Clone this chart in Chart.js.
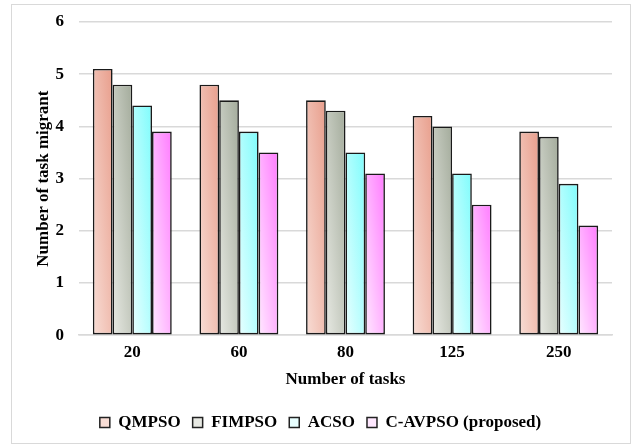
<!DOCTYPE html>
<html>
<head>
<meta charset="utf-8">
<script src="https://cdn.jsdelivr.net/npm/chart.js@4.4.1/dist/chart.umd.min.js"></script>
<style>
  html, body { margin: 0; padding: 0; background: #fff; }
  #frame {
    position: absolute; left: 11px; top: 4px; width: 618px; height: 438px;
    border: 1px solid #d9d9d9;
  }
  #wrap { position: absolute; left: 0; top: 0; width: 638px; height: 446px; }
</style>
</head>
<body>
<div id="frame"></div>
<div id="wrap"><canvas id="chart"></canvas></div>
<script>
const categories = ["20", "60", "80", "125", "250"];
const seriesNames = ["QMPSO", "FIMPSO", "ACSO", "C-AVPSO (proposed)"];
const qmpso = [5.1, 4.8, 4.5, 4.2, 3.9];
const fimpso = [4.8, 4.5, 4.3, 4.0, 3.8];
const acso = [4.4, 3.9, 3.5, 3.1, 2.9];
const cavpso = [3.9, 3.5, 3.1, 2.5, 2.1];
const yTicks = [0, 1, 2, 3, 4, 5, 6];

// light (bottom-left) -> strong (top-right)
const gradStops = [
  ["#f8ddd5", "#e89e8c"],
  ["#e7e9e3", "#a3ab9b"],
  ["#e8ffff", "#7ffcfc"],
  ["#ffe8ff", "#ff7cff"],
];

const font = { family: "'Liberation Serif', 'Times New Roman', serif", weight: "bold" };

// diagonal gradient per bar, scaled with the bar shape (like office charts)
const barGradient = {
  id: "barGradient",
  beforeDatasetsDraw(chart) {
    const ctx = chart.ctx;
    chart.data.datasets.forEach((ds, di) => {
      const meta = chart.getDatasetMeta(di);
      meta.data.forEach((el) => {
        const w = el.width;
        const h = Math.abs(el.base - el.y);
        if (!w || !h) return;
        const left = el.x - w / 2;
        const gx = 1 / (2 * w);
        const gy = -1 / (2 * h);
        const n = gx * gx + gy * gy;
        const g = ctx.createLinearGradient(left, el.base, left + gx / n, el.base + gy / n);
        g.addColorStop(0, gradStops[di][0]);
        g.addColorStop(1, gradStops[di][1]);
        el.options = Object.assign({}, el.options, { backgroundColor: g });
      });
    });
  },
};

const datasets = [qmpso, fimpso, acso, cavpso].map((vals, i) => ({
  label: seriesNames[i],
  data: vals,
  backgroundColor: gradStops[i][0],
  borderColor: "#1a1a1a",
  borderWidth: 1.6,
  borderSkipped: false,
  categoryPercentage: 0.74,
  barPercentage: 1.0,
}));

new Chart(document.getElementById("chart"), {
  type: "bar",
  data: { labels: categories, datasets: datasets },
  plugins: [barGradient],
  options: {
    responsive: true,
    maintainAspectRatio: false,
    animation: false,
    layout: { padding: { left: 29, right: 26, top: 22, bottom: 5 } },
    plugins: {
      tooltip: { enabled: false },
      legend: {
        position: "bottom",
        labels: {
          color: "#000",
          font: { ...font, size: 17 },
          boxWidth: 10,
          boxHeight: 10,
          padding: 12,
          generateLabels(chart) {
            return chart.data.datasets.map((ds, i) => ({
              text: ds.label,
              fillStyle: gradStops[i][0],
              strokeStyle: "#222",
              lineWidth: 1.5,
              datasetIndex: i,
              fontColor: "#000",
            }));
          },
        },
      },
    },
    scales: {
      x: {
        grid: { display: false },
        border: { display: true, color: "#d9d9d9", width: 1.5 },
        ticks: { color: "#000", font: { ...font, size: 17 }, padding: -1 },
        title: {
          display: true,
          text: "Number of tasks",
          color: "#000",
          font: { ...font, size: 17 },
          padding: { top: 8, bottom: 12 },
        },
      },
      y: {
        min: 0,
        max: 6,
        afterBuildTicks(axis) {
          axis.ticks = yTicks.map((v) => ({ value: v }));
        },
        afterFit(axis) {
          axis.width = 50;
          axis.paddingTop = 0;
          axis.paddingBottom = 0;
        },
        grid: { color: "#d9d9d9", lineWidth: 1.5, drawTicks: false },
        border: { display: false },
        ticks: { color: "#000", font: { ...font, size: 17 }, padding: 15 },
        title: {
          display: true,
          text: "Number of task migrant",
          color: "#000",
          font: { ...font, size: 17 },
          padding: 4,
        },
      },
    },
  },
});
</script>
</body>
</html>
